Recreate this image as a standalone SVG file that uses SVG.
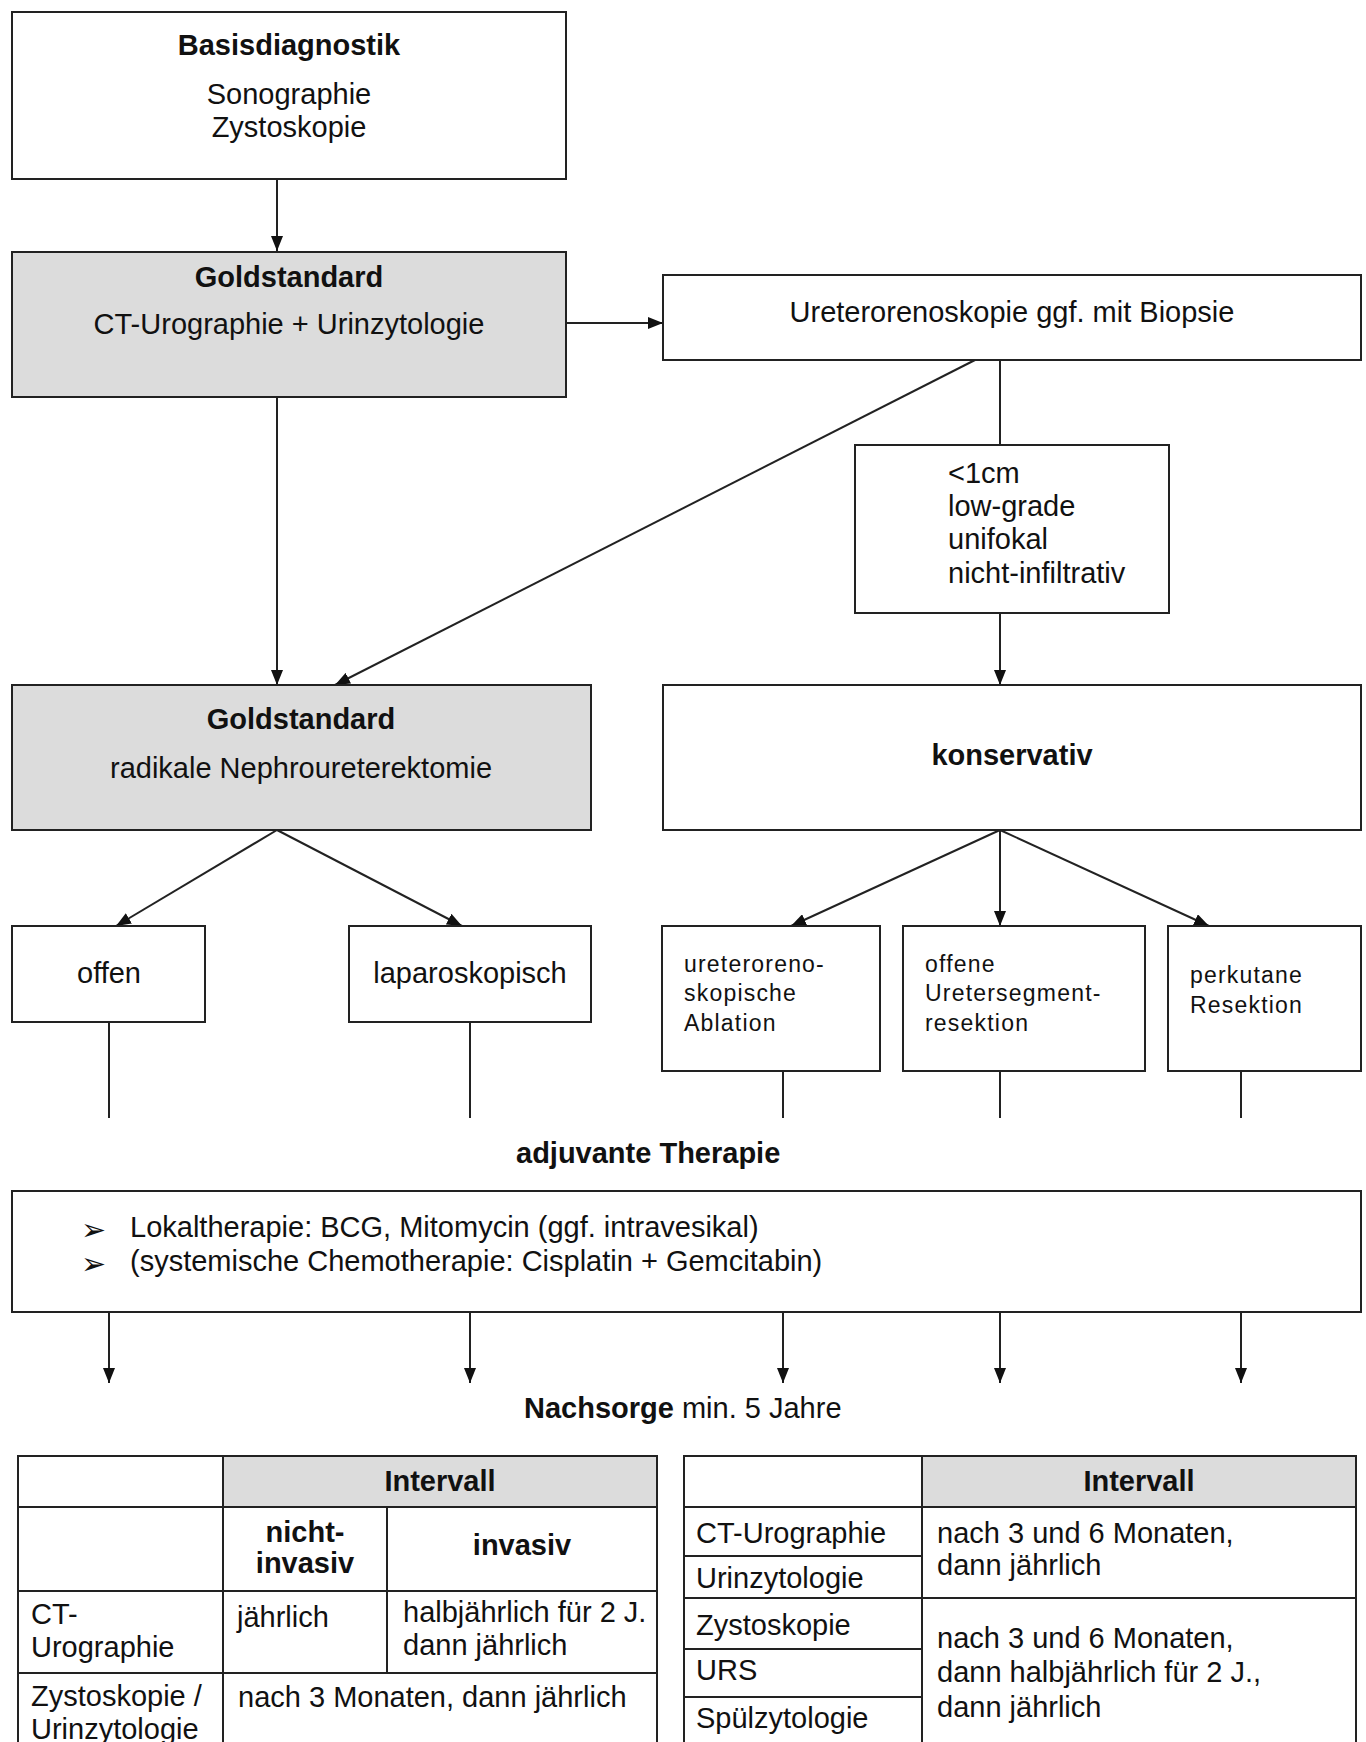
<svg xmlns="http://www.w3.org/2000/svg" width="1366" height="1742" viewBox="0 0 1366 1742">
<defs>
<marker id="ah" markerUnits="userSpaceOnUse" markerWidth="15" markerHeight="12" refX="15" refY="6" orient="auto">
<path d="M0,0 L15,6 L0,12 z" fill="#111"/>
</marker>
<style>
.box{fill:#fff;stroke:#222;stroke-width:2}
.gbox{fill:#dcdcdc;stroke:#222;stroke-width:2}
.t{font-family:"Liberation Sans",Arial,sans-serif;font-size:29px;fill:#111}
.b{font-family:"Liberation Sans",Arial,sans-serif;font-size:29px;font-weight:bold;fill:#111}
.s{font-family:"Liberation Sans",Arial,sans-serif;font-size:23px;letter-spacing:1.2px;fill:#111}
.c{text-anchor:middle}
.ln{stroke:#222;stroke-width:2;fill:none}
.ar{stroke:#222;stroke-width:2;fill:none;marker-end:url(#ah)}
.bul{font-family:"DejaVu Sans",sans-serif;font-size:30px;fill:#111}
.tl{stroke:#222;stroke-width:2}
</style>
</defs>
<rect width="1366" height="1742" fill="#fff"/>

<g id="connectors">
<path class="ar" d="M277,179 L277,251"/>
<path class="ar" d="M566,323 L663,323"/>
<path class="ar" d="M277,397 L277,685"/>
<path class="ar" d="M975,360 L335,685"/>
<path class="ln" d="M1000,360 L1000,445"/>
<path class="ar" d="M1000,613 L1000,685"/>
<path class="ar" d="M277,830 L116,926"/>
<path class="ar" d="M277,830 L462,926"/>
<path class="ar" d="M1000,830 L791,926"/>
<path class="ar" d="M1000,830 L1000,926"/>
<path class="ar" d="M1000,830 L1209,926"/>
<path class="ln" d="M109,1022 L109,1118"/>
<path class="ln" d="M470,1022 L470,1118"/>
<path class="ln" d="M783,1071 L783,1118"/>
<path class="ln" d="M1000,1071 L1000,1118"/>
<path class="ln" d="M1241,1071 L1241,1118"/>
<path class="ar" d="M109,1312 L109,1383"/>
<path class="ar" d="M470,1312 L470,1383"/>
<path class="ar" d="M783,1312 L783,1383"/>
<path class="ar" d="M1000,1312 L1000,1383"/>
<path class="ar" d="M1241,1312 L1241,1383"/>
</g>

<g id="basisdiagnostik">
<rect class="box" x="12" y="12" width="554" height="167"/>
<text class="b c" x="289" y="55">Basisdiagnostik</text>
<text class="t c" x="289" y="104">Sonographie</text>
<text class="t c" x="289" y="137">Zystoskopie</text>
</g>

<g id="goldstandard1">
<rect class="gbox" x="12" y="252" width="554" height="145"/>
<text class="b c" x="289" y="287">Goldstandard</text>
<text class="t c" x="289" y="334">CT-Urographie + Urinzytologie</text>
</g>

<g id="urs">
<rect class="box" x="663" y="275" width="698" height="85"/>
<text class="t c" x="1012" y="322">Ureterorenoskopie ggf. mit Biopsie</text>
</g>

<g id="kriterien">
<rect class="box" x="855" y="445" width="314" height="168"/>
<text class="t" x="948" y="483">&lt;1cm</text>
<text class="t" x="948" y="516">low-grade</text>
<text class="t" x="948" y="549">unifokal</text>
<text class="t" x="948" y="583">nicht-infiltrativ</text>
</g>

<g id="goldstandard2">
<rect class="gbox" x="12" y="685" width="579" height="145"/>
<text class="b c" x="301" y="729">Goldstandard</text>
<text class="t c" x="301" y="778">radikale Nephroureterektomie</text>
</g>

<g id="konservativ">
<rect class="box" x="663" y="685" width="698" height="145"/>
<text class="b c" x="1012" y="765">konservativ</text>
</g>

<g id="offen">
<rect class="box" x="12" y="926" width="193" height="96"/>
<text class="t c" x="109" y="983">offen</text>
</g>

<g id="laparoskopisch">
<rect class="box" x="349" y="926" width="242" height="96"/>
<text class="t c" x="470" y="983">laparoskopisch</text>
</g>

<g id="ablation">
<rect class="box" x="662" y="926" width="218" height="145"/>
<text class="s" x="684" y="972">ureteroreno-</text>
<text class="s" x="684" y="1001">skopische</text>
<text class="s" x="684" y="1031">Ablation</text>
</g>

<g id="segmentresektion">
<rect class="box" x="903" y="926" width="242" height="145"/>
<text class="s" x="925" y="972">offene</text>
<text class="s" x="925" y="1001">Uretersegment-</text>
<text class="s" x="925" y="1031">resektion</text>
</g>

<g id="perkutan">
<rect class="box" x="1168" y="926" width="193" height="145"/>
<text class="s" x="1190" y="983">perkutane</text>
<text class="s" x="1190" y="1013">Resektion</text>
</g>

<g id="adjuvant-label">
<text class="b" x="516" y="1163">adjuvante Therapie</text>
</g>

<g id="adjuvant">
<rect class="box" x="12" y="1191" width="1349" height="121"/>
<text class="bul" x="81" y="1240">➢</text>
<text class="t" x="130" y="1237">Lokaltherapie: BCG, Mitomycin (ggf. intravesikal)</text>
<text class="bul" x="81" y="1274">➢</text>
<text class="t" x="130" y="1271">(systemische Chemotherapie: Cisplatin + Gemcitabin)</text>
</g>

<g id="nachsorge-label">
<text x="524" y="1418"><tspan class="b">Nachsorge</tspan><tspan class="t"> min. 5 Jahre</tspan></text>
</g>

<g id="tabelle1">
<rect x="223" y="1456" width="434" height="51" fill="#dcdcdc"/>
<rect x="18" y="1456" width="639" height="310" fill="none" stroke="#222" stroke-width="2"/>
<line class="tl" x1="18" y1="1507" x2="657" y2="1507"/>
<line class="tl" x1="18" y1="1591" x2="657" y2="1591"/>
<line class="tl" x1="18" y1="1673" x2="657" y2="1673"/>
<line class="tl" x1="223" y1="1456" x2="223" y2="1766"/>
<line class="tl" x1="387" y1="1507" x2="387" y2="1673"/>
<text class="b c" x="440" y="1491">Intervall</text>
<text class="b c" x="305" y="1542">nicht-</text>
<text class="b c" x="305" y="1573">invasiv</text>
<text class="b c" x="522" y="1555">invasiv</text>
<text class="t" x="31" y="1624">CT-</text>
<text class="t" x="31" y="1657">Urographie</text>
<text class="t" x="237" y="1627">jährlich</text>
<text class="t" x="403" y="1622">halbjährlich für 2 J.</text>
<text class="t" x="403" y="1655">dann jährlich</text>
<text class="t" x="31" y="1706">Zystoskopie /</text>
<text class="t" x="31" y="1739">Urinzytologie</text>
<text class="t" x="238" y="1707">nach 3 Monaten, dann jährlich</text>
</g>

<g id="tabelle2">
<rect x="922" y="1456" width="434" height="51" fill="#dcdcdc"/>
<rect x="684" y="1456" width="672" height="310" fill="none" stroke="#222" stroke-width="2"/>
<line class="tl" x1="684" y1="1507" x2="1356" y2="1507"/>
<line class="tl" x1="684" y1="1556" x2="922" y2="1556"/>
<line class="tl" x1="684" y1="1598" x2="1356" y2="1598"/>
<line class="tl" x1="684" y1="1649" x2="922" y2="1649"/>
<line class="tl" x1="684" y1="1697" x2="922" y2="1697"/>
<line class="tl" x1="922" y1="1456" x2="922" y2="1766"/>
<text class="b c" x="1139" y="1491">Intervall</text>
<text class="t" x="696" y="1543">CT-Urographie</text>
<text class="t" x="696" y="1588">Urinzytologie</text>
<text class="t" x="696" y="1635">Zystoskopie</text>
<text class="t" x="696" y="1680">URS</text>
<text class="t" x="696" y="1728">Spülzytologie</text>
<text class="t" x="937" y="1543">nach 3 und 6 Monaten,</text>
<text class="t" x="937" y="1575">dann jährlich</text>
<text class="t" x="937" y="1648">nach 3 und 6 Monaten,</text>
<text class="t" x="937" y="1682">dann halbjährlich für 2 J.,</text>
<text class="t" x="937" y="1717">dann jährlich</text>
</g>
</svg>
